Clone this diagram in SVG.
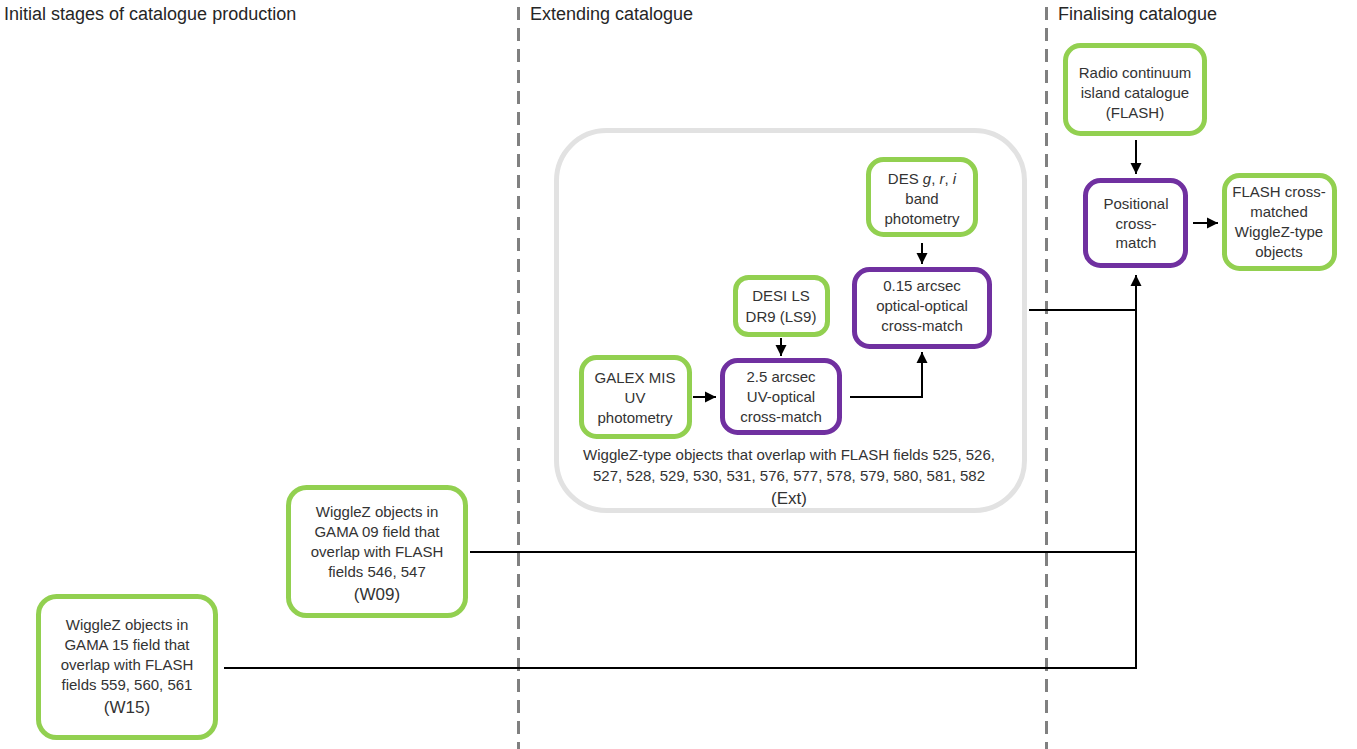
<svg xmlns="http://www.w3.org/2000/svg" width="1357" height="749" viewBox="0 0 1357 749">
<defs>
<marker id="ah" viewBox="0 0 10 10" refX="10" refY="5" markerWidth="5.5" markerHeight="6" markerUnits="strokeWidth" orient="auto">
<path d="M0,0 L10,5 L0,10 z" fill="#000"/>
</marker>
<style>
.hdr{font-family:"Liberation Sans",Arial,sans-serif;font-size:18px;fill:#262626}
.t{font-family:"Liberation Sans",Arial,sans-serif;font-size:15px;fill:#333;text-anchor:middle}
.big{font-size:17px}
.g{fill:#fff;stroke:#92d050;stroke-width:5}
.p{fill:#fff;stroke:#7030a0;stroke-width:5}
.c{fill:none;stroke:#000;stroke-width:2}
.dash{stroke:#808080;stroke-width:3;stroke-dasharray:13 8}
</style>
</defs>
<rect width="1357" height="749" fill="#fff"/>
<g id="dividers">
<line class="dash" x1="518.5" y1="7" x2="518.5" y2="749"/>
<line class="dash" x1="1046.5" y1="7" x2="1046.5" y2="749"/>
</g>
<g id="headers">
<text class="hdr" x="4" y="20">Initial stages of catalogue production</text>
<text class="hdr" x="530" y="20">Extending catalogue</text>
<text class="hdr" x="1058" y="20">Finalising catalogue</text>
</g>
<g id="ext-container">
<rect x="556.5" y="130.5" width="468" height="380" rx="50" fill="none" stroke="#e2e2e2" stroke-width="5"/>
<text class="t" x="789" y="460">WiggleZ-type objects that overlap with FLASH fields 525, 526,</text>
<text class="t" x="789" y="481">527, 528, 529, 530, 531, 576, 577, 578, 579, 580, 581, 582</text>
<text class="t big" x="789" y="504">(Ext)</text>
</g>
<g id="connectors">
<line class="c" x1="1136" y1="140" x2="1136" y2="174" marker-end="url(#ah)"/>
<line class="c" x1="1193" y1="223" x2="1218" y2="223" marker-end="url(#ah)"/>
<line class="c" x1="922" y1="243" x2="922" y2="264" marker-end="url(#ah)"/>
<line class="c" x1="781" y1="338" x2="781" y2="356" marker-end="url(#ah)"/>
<line class="c" x1="693" y1="397" x2="716" y2="397" marker-end="url(#ah)"/>
<polyline class="c" points="850,397 922,397 922,352" marker-end="url(#ah)"/>
<line class="c" x1="1029" y1="310" x2="1136" y2="310"/>
<line class="c" x1="470" y1="552" x2="1136" y2="552"/>
<polyline class="c" points="224,668 1136,668 1136,275" marker-end="url(#ah)"/>
</g>
<g id="radio">
<rect class="g" x="1065.5" y="45.5" width="139" height="88" rx="15"/>
<text class="t" x="1135" y="78">Radio continuum</text>
<text class="t" x="1135" y="98">island catalogue</text>
<text class="t" x="1135" y="118">(FLASH)</text>
</g>
<g id="positional">
<rect class="p" x="1085.5" y="180.5" width="100" height="85" rx="15"/>
<text class="t" x="1136" y="209">Positional</text>
<text class="t" x="1136" y="229">cross-</text>
<text class="t" x="1136" y="248">match</text>
</g>
<g id="flash-out">
<rect class="g" x="1224.5" y="175.5" width="110" height="93" rx="15"/>
<text class="t" x="1279" y="197">FLASH cross-</text>
<text class="t" x="1279" y="217">matched</text>
<text class="t" x="1279" y="237">WiggleZ-type</text>
<text class="t" x="1279" y="257">objects</text>
</g>
<g id="des">
<rect class="g" x="868.5" y="159.5" width="107" height="75" rx="15"/>
<text class="t" x="922" y="184">DES <tspan font-style="italic">g</tspan>, <tspan font-style="italic">r</tspan>, <tspan font-style="italic">i</tspan></text>
<text class="t" x="922" y="204">band</text>
<text class="t" x="922" y="224">photometry</text>
</g>
<g id="optical-xmatch">
<rect class="p" x="854.5" y="269.5" width="135" height="77" rx="15"/>
<text class="t" x="922" y="291">0.15 arcsec</text>
<text class="t" x="922" y="311">optical-optical</text>
<text class="t" x="922" y="331">cross-match</text>
</g>
<g id="desi">
<rect class="g" x="735.5" y="277.5" width="92" height="57" rx="13"/>
<text class="t" x="781" y="301">DESI LS</text>
<text class="t" x="781" y="322">DR9 (LS9)</text>
</g>
<g id="galex">
<rect class="g" x="581.5" y="357.5" width="108" height="79" rx="15"/>
<text class="t" x="635" y="383">GALEX MIS</text>
<text class="t" x="635" y="403">UV</text>
<text class="t" x="635" y="423">photometry</text>
</g>
<g id="uv-xmatch">
<rect class="p" x="722.5" y="360.5" width="117" height="72" rx="15"/>
<text class="t" x="781" y="382">2.5 arcsec</text>
<text class="t" x="781" y="402">UV-optical</text>
<text class="t" x="781" y="422">cross-match</text>
</g>
<g id="w09">
<rect class="g" x="288.5" y="487.5" width="177" height="128" rx="18"/>
<text class="t" x="377" y="517">WiggleZ objects in</text>
<text class="t" x="377" y="537">GAMA 09 field that</text>
<text class="t" x="377" y="557">overlap with FLASH</text>
<text class="t" x="377" y="577">fields 546, 547</text>
<text class="t big" x="377" y="600">(W09)</text>
</g>
<g id="w15">
<rect class="g" x="38.5" y="596.5" width="177" height="141" rx="18"/>
<text class="t" x="127" y="630">WiggleZ objects in</text>
<text class="t" x="127" y="650">GAMA 15 field that</text>
<text class="t" x="127" y="670">overlap with FLASH</text>
<text class="t" x="127" y="690">fields 559, 560, 561</text>
<text class="t big" x="127" y="713">(W15)</text>
</g>
</svg>
